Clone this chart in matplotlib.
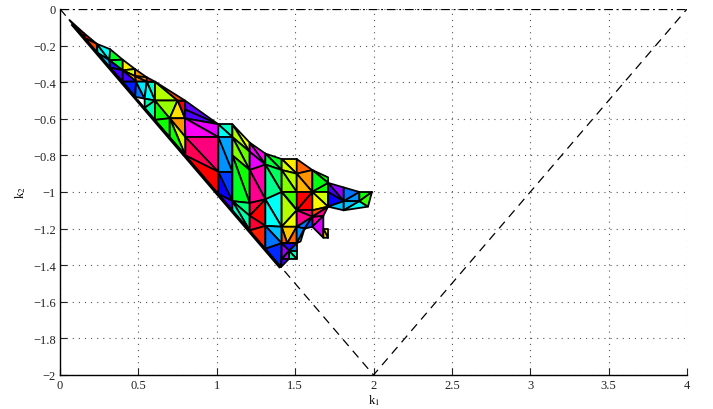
import numpy as np
import matplotlib
matplotlib.use('Agg')
import matplotlib.pyplot as plt

plt.rcParams['font.family'] = ['Liberation Serif']
plt.rcParams['mathtext.fontset'] = 'stix'

# mesh nodes
k1 = [.06, .15, .16, .234, .24, .32, .315, .32, .40, .40,
      .40, .478, .48, .485, .553, .553, .606, .54, .54, .48,
      .606, .606, .70, .70, .75, .797, .797, .80, .80, 1.01,
      1.01, 1.01, 1.01, 1.10, 1.10, 1.10, 1.10, 1.10, 1.10, 1.21,
      1.21, 1.21, 1.21, 1.21, 1.21, 1.31, 1.31, 1.31, 1.31, 1.31,
      1.414, 1.414, 1.414, 1.414, 1.414, 1.41, 1.51, 1.51, 1.51, 1.51,
      1.51, 1.51, 1.51, 1.61, 1.61, 1.61, 1.61, 1.61, 1.61, 1.71,
      1.71, 1.71, 1.68, 1.71, 1.71, 1.81, 1.81, 1.81, 1.91, 1.91,
      1.99, 1.965, 1.56, 1.45, .80, 1.68, 1.68, 1.71,
      1.46, 1.51, 1.46, 1.414, 1.535]
k2 = [-.06, -.13, -.16, -.19, -.24, -.22, -.28, -.32, -.277, -.335,
      -.397, -.328, -.367, -.397, -.373, -.397, -.397, -.49, -.54, -.48,
      -.50, -.606, -.597, -.70, -.50, -.50, -.597, -.80, -.70, -.63,
      -.70, -.89, -1.01, -.63, -.70, -.80, -.89, -1.05, -1.10, -.73,
      -.78, -.88, -1.06, -1.13, -1.21, -.79, -.85, -1.04, -1.185, -1.31,
      -.82, -.88, -1.0, -1.19, -1.28, -1.41, -.82, -.90, -1.0, -1.10,
      -1.19, -1.28, -1.366, -.88, -.90, -1.0, -1.10, -1.135, -1.19, -.92,
      -1.0, -1.08, -1.13, -1.2, -1.25, -.975, -1.05, -1.10, -1.0, -1.05,
      -1.0, -1.08, -1.2, -1.28, -.55, -1.25, -1.2, -.95,
      -1.32, -1.32, -1.366, -1.366, -1.27]

triangles = [
    (0, 1, 2), (1, 3, 2), (2, 3, 4), (3, 6, 4), (3, 5, 6), (4, 6, 7),
    (5, 8, 6), (6, 8, 9), (6, 9, 7), (7, 9, 10), (8, 11, 9), (9, 11, 12),
    (9, 12, 13), (9, 13, 10), (11, 14, 12), (12, 14, 15), (12, 15, 13), (14, 16, 15),
    (10, 13, 19), (13, 17, 19), (13, 15, 17), (15, 16, 20), (15, 20, 17), (17, 20, 18),
    (20, 21, 18), (16, 24, 20), (16, 25, 24), (20, 22, 21), (20, 24, 22), (24, 26, 22),
    (24, 25, 26), (21, 22, 23), (22, 26, 28), (22, 28, 27), (22, 27, 23),
    (25, 29, 84), (84, 29, 26), (26, 29, 30), (26, 30, 28), (28, 30, 31), (28, 31, 27), (27, 31, 32),
    (29, 33, 34), (29, 34, 30), (30, 34, 36), (30, 36, 31), (31, 36, 37), (31, 37, 32), (32, 37, 38),
    (33, 39, 40), (33, 40, 34), (34, 40, 41), (34, 41, 35), (35, 41, 42), (35, 42, 37),
    (37, 42, 43), (37, 43, 44), (37, 44, 38),
    (39, 45, 46), (39, 46, 40), (40, 46, 41), (41, 46, 47), (41, 47, 42), (42, 47, 43),
    (43, 47, 48), (43, 48, 44), (44, 48, 49),
    (45, 50, 51), (45, 51, 46), (46, 51, 52), (46, 52, 47), (47, 52, 53), (47, 53, 48),
    (48, 53, 54), (48, 54, 49), (49, 54, 55),
    (50, 56, 57), (50, 57, 51), (51, 57, 58), (51, 58, 52), (52, 58, 59), (52, 59, 53),
    (53, 59, 60), (53, 60, 83), (53, 83, 54), (83, 60, 61), (54, 83, 61),
    (54, 61, 88), (61, 89, 88), (88, 89, 62), (88, 62, 90), (54, 88, 91), (88, 90, 91), (91, 90, 55),
    (56, 63, 57), (57, 63, 65), (57, 65, 58), (58, 65, 59), (59, 65, 66), (59, 66, 67), (59, 67, 60),
    (60, 67, 82), (60, 82, 61), (61, 82, 92), (67, 72, 68), (68, 72, 85), (67, 68, 82),
    (86, 73, 74), (86, 74, 85),
    (63, 69, 87), (63, 87, 65), (87, 70, 65), (65, 70, 71), (65, 71, 66), (66, 71, 67), (67, 71, 72),
    (87, 75, 76), (87, 76, 70), (70, 76, 71), (71, 76, 77),
    (75, 78, 76), (76, 78, 79), (76, 79, 77), (77, 79, 81), (78, 80, 79), (79, 80, 81),
]

# position on the hsv colormap, one per triangle
hue = [
    .0, .0, .05, .5, .5, .55,
    .36, .38, .7, .72, .16, .2,
    .1, .72, .1, .1, .08, .02,
    .66, .6, .52, .47, .5, .45,
    .45, .22, .05, .33, .24, .15,
    .0, .33, .1, .2, .33,
    .74, .73, .83, .85, .93, .96, .0,
    .47, .5, .57, .58, .64, .68, .72,
    .18, .22, .27, .25, .33, .36,
    .42, .45, .48,
    .85, .84, .83, .9, .92, .97,
    .0, .98, .02,
    .36, .38, .4, .43, .5, .5,
    .55, .6, .65,
    .16, .2, .22, .25, .3, .22,
    .18, .13, .06, .07, .03,
    .7, .6, .47, .45, .78, .8, .72,
    .07, .1, .12, .0, .0, .93, .92,
    .6, .58, .48, .9, .82, .63,
    .15, .15,
    .33, .35, .33, .2, .17, .05, .92,
    .77, .72, .68, .55,
    .6, .58, .55, .5, .33, .3,
]

xticks = [0, .5, 1, 1.5, 2, 2.5, 3, 3.5, 4]
xticklabels = ['0', '0.5', '1', '1.5', '2', '2.5', '3', '3.5', '4']
yticks = [0, -.2, -.4, -.6, -.8, -1, -1.2, -1.4, -1.6, -1.8, -2]
yticklabels = ['0', '\u22120.2', '\u22120.4', '\u22120.6', '\u22120.8', '\u22121',
               '\u22121.2', '\u22121.4', '\u22121.6', '\u22121.8', '\u22122']

# the triangle that bounds the region
edge_k1 = [0, 2, 4]
edge_k2 = [0, -2, 0]
jag_k1 = [.08, 1.4]
jag_k2 = [-.088, -1.408]

fig = plt.figure(figsize=(7.13, 4.10), dpi=100)
ax = fig.add_axes([60 / 713, 34 / 410, 627 / 713, 366 / 410])

ax.plot(edge_k1, edge_k2, 'k--', lw=0.9, dashes=(7, 5))
ax.plot([0, 4], [0, 0], 'k-.', lw=0.9, dashes=(7, 3, 1.5, 3))
ax.tripcolor(np.array(k1), np.array(k2), np.array(triangles), facecolors=np.array(hue),
             cmap='hsv', vmin=0, vmax=1, edgecolors='k', linewidth=1.3, zorder=3)
ax.plot(jag_k1, jag_k2, color='k', lw=2.0, zorder=4)

ax.set_xlim(0, 4)
ax.set_ylim(-2, 0)
ax.set_xticks(xticks)
ax.set_xticklabels(xticklabels)
ax.set_yticks(yticks)
ax.set_yticklabels(yticklabels)
ax.tick_params(direction='in', length=5, width=0.8, labelsize=9, pad=3, colors='#222222')
ax.grid(True, color='#555555', linestyle=(0, (1, 4.5)), linewidth=0.8)
ax.set_axisbelow(True)
ax.spines['top'].set_visible(False)
ax.spines['right'].set_visible(False)
ax.spines['left'].set_linewidth(1.0)
ax.spines['bottom'].set_linewidth(1.0)
ax.set_xlabel(r'k$_1$', fontsize=9, labelpad=1)
ax.set_ylabel(r'k$_2$', fontsize=9, labelpad=4)

fig.savefig('out.png', dpi=100)
